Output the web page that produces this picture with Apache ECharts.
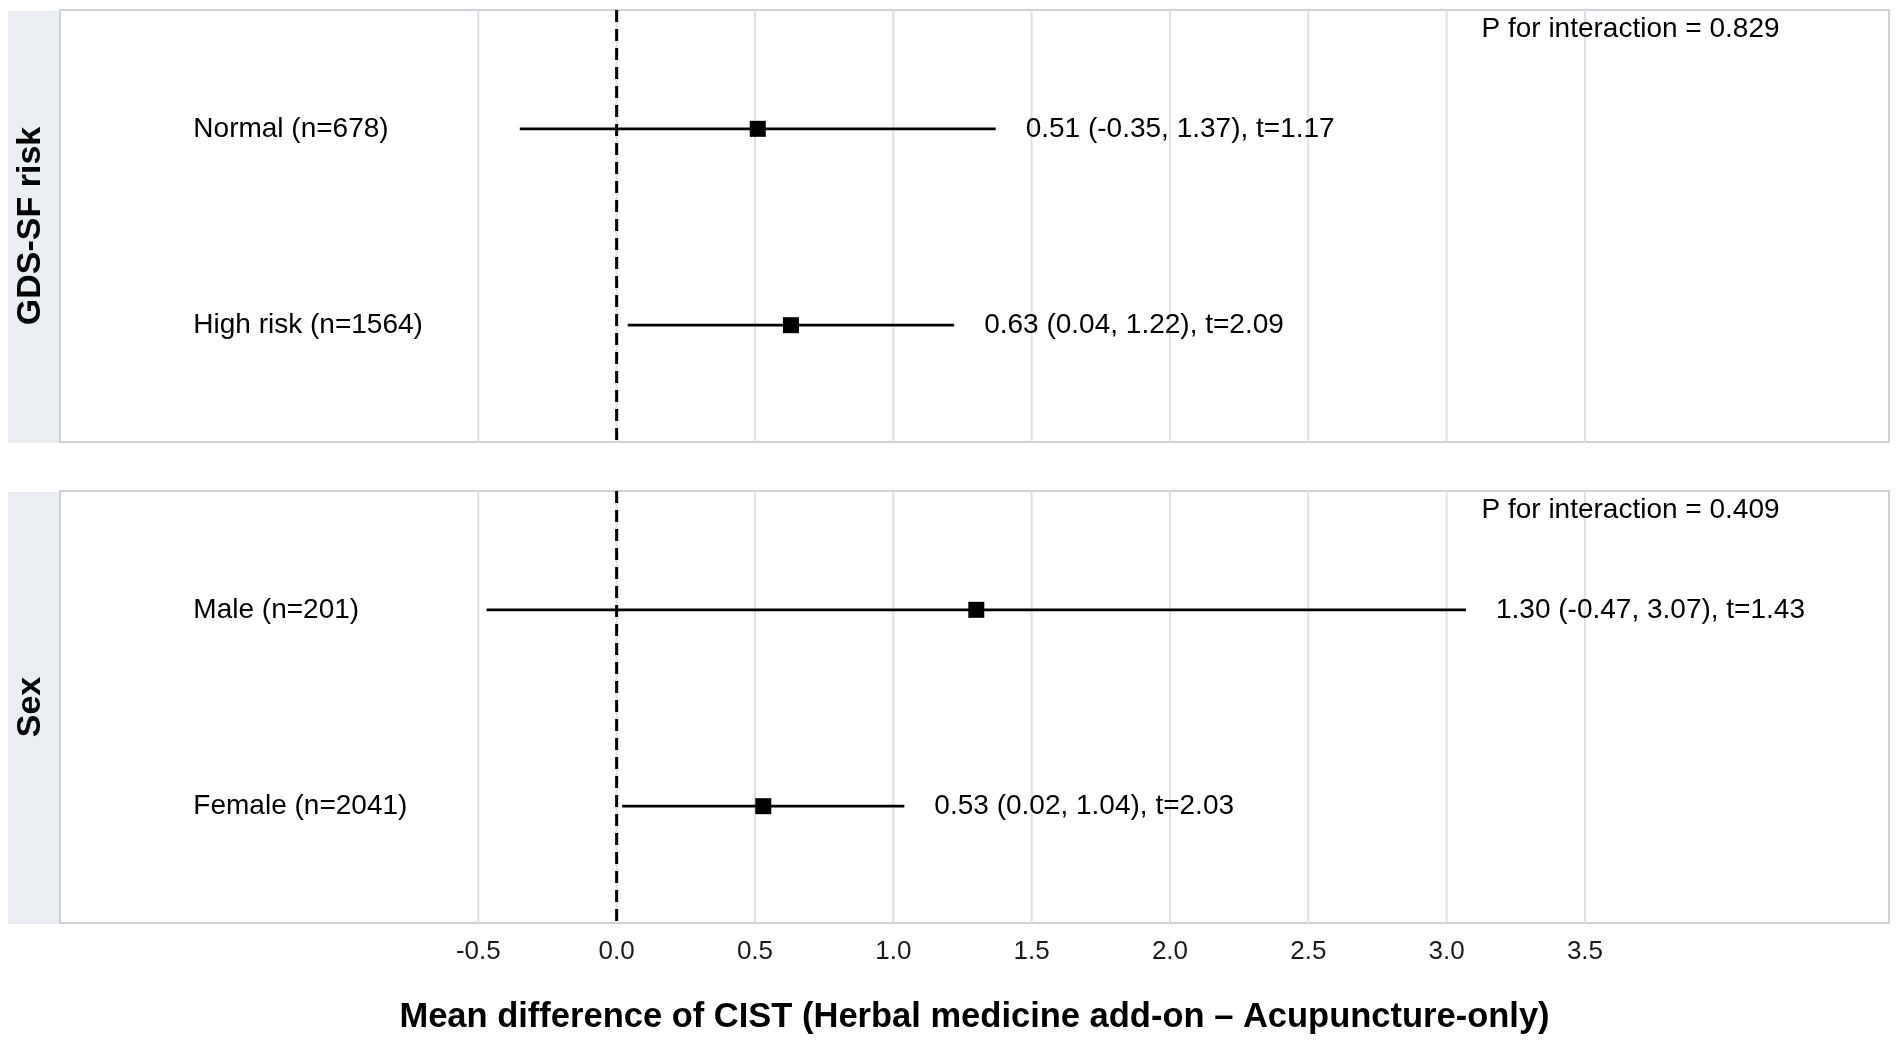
<!DOCTYPE html>
<html>
<head>
<meta charset="utf-8">
<script src="https://cdn.jsdelivr.net/npm/echarts@6/dist/echarts.min.js"></script>
<style>
html,body{margin:0;padding:0;background:#ffffff;}
#chart{width:1901px;height:1041px;}
</style>
</head>
<body>
<div id="chart"></div>
<script>
// ---- data ----
const panelNames = ['GDS-SF risk', 'Sex'];
const pInteraction = ['P for interaction = 0.829', 'P for interaction = 0.409'];
const subgroupLabels = [['Normal (n=678)', 'High risk (n=1564)'], ['Male (n=201)', 'Female (n=2041)']];
const estimates = [[0.51, 0.63], [1.30, 0.53]];
const lowerCI = [[-0.35, 0.04], [-0.47, 0.02]];
const upperCI = [[1.37, 1.22], [3.07, 1.04]];
const tValues = [[1.17, 2.09], [1.43, 2.03]];
const rowY = [2, 1];
const tickValues = [-0.5, 0.0, 0.5, 1.0, 1.5, 2.0, 2.5, 3.0, 3.5];
const refLine = [0];
const xTitle = 'Mean difference of CIST (Herbal medicine add-on \u2013 Acupuncture-only)';

// ---- layout constants ----
const FONT = '"Liberation Sans", Arial, Helvetica, sans-serif';
const X_MIN = -2.012, X_MAX = 4.599;
const Y_MIN = 0.4, Y_MAX = 2.6;
const LABEL_X = -1.53;
const P_X = 3.126, P_Y = 2.5;
const gridsPx = [
  {left: 60, top: 10, width: 1829, height: 432},
  {left: 60, top: 491, width: 1829, height: 432}
];

const chart = echarts.init(document.getElementById('chart'), null, {renderer: 'canvas'});

const grids = gridsPx.map(g => ({
  left: g.left, top: g.top, width: g.width, height: g.height,
  show: true, backgroundColor: '#ffffff', borderColor: '#CDD2D9', borderWidth: 2,
  containLabel: false
}));

const xAxes = gridsPx.map((g, i) => ({
  type: 'value', gridIndex: i, min: X_MIN, max: X_MAX,
  axisLine: {show: false}, axisTick: {show: false}, splitLine: {show: false},
  axisLabel: {
    show: i === 1,
    customValues: tickValues,
    margin: 16,
    fontSize: 26, fontFamily: FONT, color: '#1a1a1a',
    formatter: v => (Math.abs(v) < 1e-9 ? 0 : v).toFixed(1)
  },
  name: i === 1 ? xTitle : '',
  nameLocation: 'middle',
  nameGap: 77,
  nameTextStyle: {fontSize: 34.5, fontWeight: 'bold', fontFamily: FONT, color: '#000'}
}));

const yAxes = gridsPx.map((g, i) => ({
  type: 'value', gridIndex: i, min: Y_MIN, max: Y_MAX, show: false
}));

const series = [];
gridsPx.forEach((g, i) => {
  // vertical gridlines
  series.push({
    type: 'custom', xAxisIndex: i, yAxisIndex: i, z: 1, silent: true,
    data: tickValues.map(v => [v]),
    renderItem: (params, api) => {
      const cs = params.coordSys;
      const x = api.coord([api.value(0), Y_MIN])[0];
      return {type: 'line', shape: {x1: x, y1: cs.y, x2: x, y2: cs.y + cs.height},
        style: {stroke: '#DDE0E5', lineWidth: 2}};
    }
  });
  // dashed reference line at 0
  series.push({
    type: 'custom', xAxisIndex: i, yAxisIndex: i, z: 2, silent: true,
    data: refLine.map(v => [v]),
    renderItem: (params, api) => {
      const cs = params.coordSys;
      const x = api.coord([api.value(0), Y_MIN])[0];
      return {type: 'line', shape: {x1: x, y1: cs.y, x2: x, y2: cs.y + cs.height},
        style: {stroke: '#000', lineWidth: 3, lineDash: [12, 7]}};
    }
  });
  // error bars, point estimates, labels
  series.push({
    type: 'custom', xAxisIndex: i, yAxisIndex: i, z: 3, silent: true,
    data: rowY.map((y, r) => [lowerCI[i][r], upperCI[i][r], estimates[i][r], y, tValues[i][r]]),
    renderItem: (params, api) => {
      const r = params.dataIndex;
      const lo = api.value(0), hi = api.value(1), est = api.value(2), y = api.value(3), t = api.value(4);
      const pLo = api.coord([lo, y]), pHi = api.coord([hi, y]), pE = api.coord([est, y]);
      const pL = api.coord([LABEL_X, y]);
      const txt = est.toFixed(2) + ' (' + lo.toFixed(2) + ', ' + hi.toFixed(2) + '), t=' + t.toFixed(2);
      return {type: 'group', children: [
        {type: 'line', shape: {x1: pLo[0], y1: pLo[1] + 1, x2: pHi[0], y2: pHi[1] + 1},
          style: {stroke: '#000', lineWidth: 2.8}},
        {type: 'rect', shape: {x: pE[0] - 8, y: pE[1] - 7, width: 16, height: 16},
          style: {fill: '#000'}},
        {type: 'text', x: pHi[0] + 30, y: pHi[1] + 1,
          style: {text: txt, fontSize: 28, fontFamily: FONT, fill: '#000', align: 'left', verticalAlign: 'middle'}},
        {type: 'text', x: pL[0], y: pL[1] + 1,
          style: {text: subgroupLabels[i][r], fontSize: 28, fontFamily: FONT, fill: '#000', align: 'left', verticalAlign: 'middle'}}
      ]};
    }
  });
  // P for interaction
  series.push({
    type: 'custom', xAxisIndex: i, yAxisIndex: i, z: 3, silent: true,
    data: [[P_X, P_Y]],
    renderItem: (params, api) => {
      const p = api.coord([api.value(0), api.value(1)]);
      return {type: 'text', x: p[0], y: p[1],
        style: {text: pInteraction[i], fontSize: 28, fontFamily: FONT, fill: '#000', align: 'left', verticalAlign: 'middle'}};
    }
  });
});

// strips (facet labels)
const graphic = [];
gridsPx.forEach((g, i) => {
  graphic.push({type: 'rect', left: 8, top: g.top + 1, shape: {width: 51, height: g.height},
    style: {fill: '#EAEDF2'}, z: 0, silent: true});
  graphic.push({type: 'text', x: 31, y: g.top + g.height / 2, rotation: Math.PI / 2,
    style: {text: panelNames[i], fontSize: 34, fontWeight: 'bold', fontFamily: FONT, fill: '#000',
      align: 'center', verticalAlign: 'middle'}, z: 1, silent: true});
});

chart.setOption({
  animation: false,
  backgroundColor: '#ffffff',
  grid: grids,
  xAxis: xAxes,
  yAxis: yAxes,
  series: series,
  graphic: graphic
});
</script>
</body>
</html>
